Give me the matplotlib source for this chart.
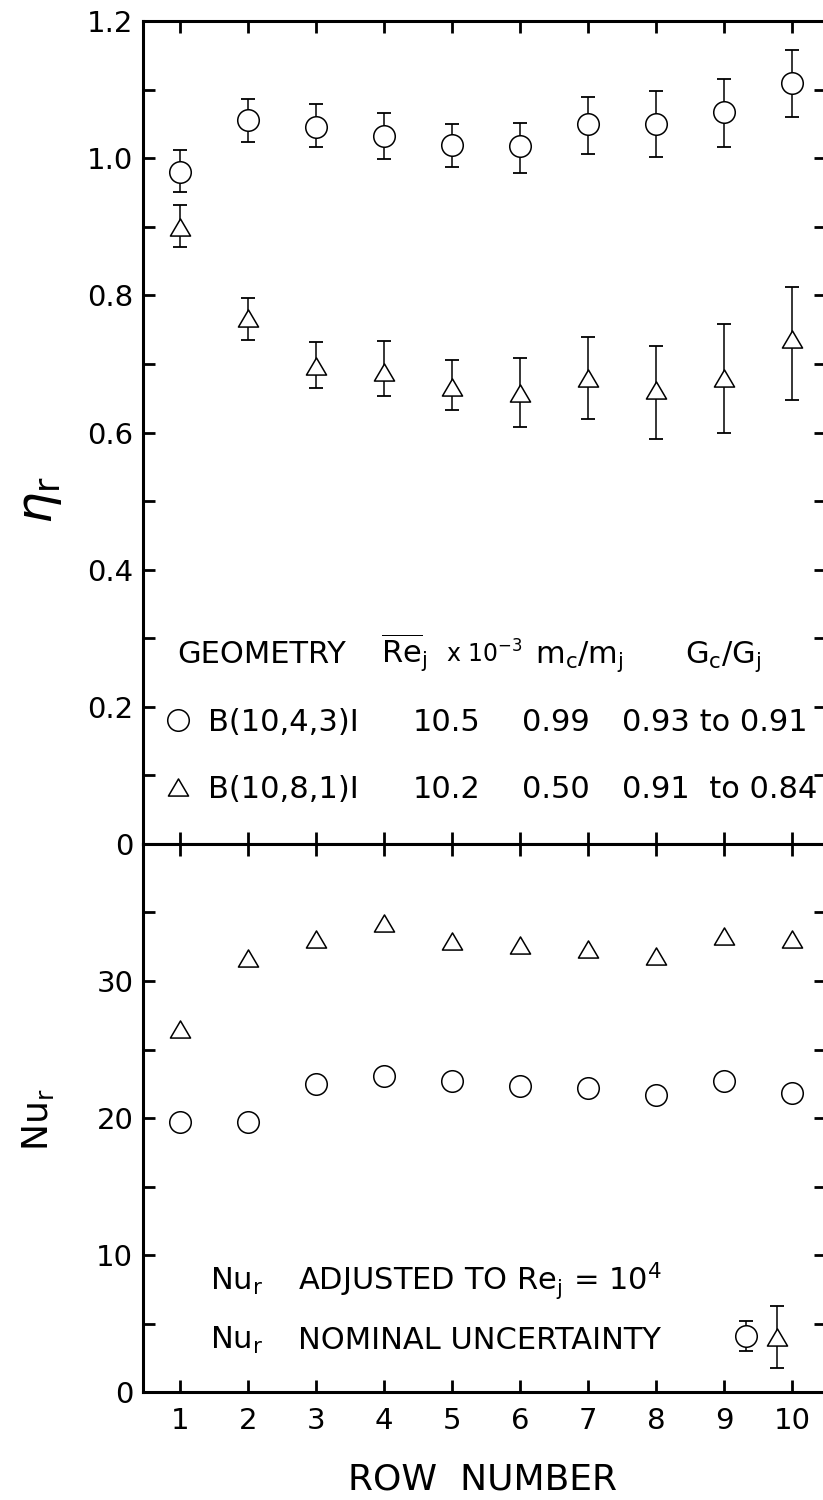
import matplotlib
matplotlib.use("Agg")
import matplotlib.pyplot as plt
from matplotlib.path import Path
from matplotlib.ticker import FixedLocator, NullFormatter

plt.rcParams['font.family'] = ['DejaVu Sans']
plt.rcParams['mathtext.default'] = 'regular'

# row-by-row results for the two tube-bank geometries
rows = [1, 2, 3, 4, 5, 6, 7, 8, 9, 10]

# effectiveness eta_r with the upper / lower ends of the scatter bars
eta_circ = [0.980, 1.056, 1.045, 1.032, 1.019, 1.018, 1.050, 1.050, 1.067, 1.110]
eta_circ_hi = [1.012, 1.086, 1.079, 1.066, 1.050, 1.051, 1.089, 1.098, 1.115, 1.158]
eta_circ_lo = [0.951, 1.024, 1.016, 0.999, 0.987, 0.979, 1.006, 1.001, 1.017, 1.060]

eta_tri = [0.900, 0.767, 0.697, 0.688, 0.666, 0.657, 0.679, 0.662, 0.679, 0.737]
eta_tri_hi = [0.932, 0.796, 0.732, 0.733, 0.705, 0.708, 0.739, 0.726, 0.758, 0.812]
eta_tri_lo = [0.871, 0.735, 0.665, 0.653, 0.633, 0.608, 0.620, 0.591, 0.599, 0.647]

# Nusselt number adjusted to Re_j = 1e4
nu_circ = [19.7, 19.7, 22.5, 23.1, 22.7, 22.3, 22.2, 21.7, 22.7, 21.8]
nu_tri = [26.5, 31.7, 33.1, 34.2, 32.9, 32.6, 32.3, 31.8, 33.3, 33.1]

# nominal uncertainty symbols drawn next to the note
unc_x = [9.33, 9.78]
unc_y = [4.1, 4.0]
unc_err = [1.1, 2.25]

eta_ticks = [0, 0.2, 0.4, 0.6, 0.8, 1.0, 1.2]
eta_labels = ['0', '0.2', '0.4', '0.6', '0.8', '1.0', '1.2']
eta_minor = [0.1, 0.3, 0.5, 0.7, 0.9, 1.1]
nu_ticks = [0, 10, 20, 30]
nu_minor = [5, 15, 25, 35]

# legend table
geometries = ["B(10,4,3)I", "B(10,8,1)I"]
re_mean = ["10.5", "10.2"]
mass_ratio = ["0.99", "0.50"]
g_ratio = ["0.93 to 0.91", "0.91  to 0.84"]

# triangle a bit wider than tall
tri = Path([(-1, -0.85), (1, -0.85), (0, 0.85), (-1, -0.85)],
           [Path.MOVETO, Path.LINETO, Path.LINETO, Path.CLOSEPOLY])

W, H = 823, 1500
fig = plt.figure(figsize=(W / 100, H / 100), dpi=100)
ax1 = fig.add_axes([143 / W, 1 - 844 / H, 683 / W, 823 / H])
ax2 = fig.add_axes([143 / W, 1 - 1392 / H, 683 / W, 548 / H])

circ_style = dict(marker='o', ms=15.5, mfc='white', mec='black', mew=1.1, ls='none', zorder=3)
tri_style = dict(marker=tri, ms=14.5, mfc='white', mec='black', mew=1.1, ls='none', zorder=3)
bar_style = dict(fmt='none', ecolor='black', elinewidth=1.1, capsize=5, capthick=1.3, zorder=2)

# upper panel
ax1.errorbar(rows, eta_circ,
             yerr=[[v - lo for v, lo in zip(eta_circ, eta_circ_lo)],
                   [hi - v for v, hi in zip(eta_circ, eta_circ_hi)]], **bar_style)
ax1.errorbar(rows, eta_tri,
             yerr=[[v - lo for v, lo in zip(eta_tri, eta_tri_lo)],
                   [hi - v for v, hi in zip(eta_tri, eta_tri_hi)]], **bar_style)
ax1.plot(rows, eta_circ, **circ_style)
ax1.plot(rows, eta_tri, **tri_style)
ax1.set_yticks(eta_ticks, eta_labels)
ax1.yaxis.set_minor_locator(FixedLocator(eta_minor))
ax1.set_ylim(0, 1.2)
ax1.xaxis.set_major_formatter(NullFormatter())

# lower panel
ax2.errorbar(unc_x, unc_y, yerr=unc_err, **bar_style)
ax2.plot(rows, nu_circ, **circ_style)
ax2.plot(rows, nu_tri, **tri_style)
ax2.plot(unc_x[:1], unc_y[:1], **circ_style)
ax2.plot(unc_x[1:], unc_y[1:], **tri_style)
ax2.set_yticks(nu_ticks)
ax2.yaxis.set_minor_locator(FixedLocator(nu_minor))
ax2.set_ylim(0, 40)

for ax in (ax1, ax2):
    ax.set_xlim(0.45, 10.5)
    ax.xaxis.set_major_locator(FixedLocator(rows))
    for s in ax.spines.values():
        s.set_linewidth(2.2)
    ax.tick_params(which='both', direction='in', length=8.5, width=2.0,
                   top=True, right=True, labelsize=21, pad=7)
ax2.tick_params(axis='x', pad=11)

# legend table inside the upper panel
tk = dict(transform=ax1.transAxes, fontsize=22, va='baseline', ha='left')
ax1.text(0.050, 0.220, "GEOMETRY", **tk)
ax1.text(0.348, 0.220, r"$\overline{\mathrm{Re}}_j$", **tk)
ax1.text(0.443, 0.220, r"x 10$^{-3}$", transform=ax1.transAxes, fontsize=17,
         va='baseline', ha='left')
ax1.text(0.574, 0.220, r"m$_c$/m$_j$", **tk)
ax1.text(0.794, 0.220, r"G$_c$/G$_j$", **tk)
ax1.plot([0.051], [0.151], transform=ax1.transAxes, clip_on=False, **circ_style)
ax1.plot([0.051], [0.069], transform=ax1.transAxes, clip_on=False, **tri_style)
for yb, geo, re, mr, gr in zip([0.137, 0.056], geometries, re_mean, mass_ratio, g_ratio):
    ax1.text(0.095, yb, geo, **tk)
    ax1.text(0.395, yb, re, **tk)
    ax1.text(0.555, yb, mr, **tk)
    ax1.text(0.701, yb, gr, **tk)

# notes in the lower panel
tk2 = dict(transform=ax2.transAxes, fontsize=22, va='baseline', ha='left')
ax2.text(0.098, 0.186, r"Nu$_r$", **tk2)
ax2.text(0.227, 0.186, r"ADJUSTED TO Re$_j$ = 10$^4$", **tk2)
ax2.text(0.098, 0.078, r"Nu$_r$", **tk2)
ax2.text(0.227, 0.078, "NOMINAL UNCERTAINTY", **tk2)

# axis titles
fig.text(40 / W, 1 - 500 / H, r"$\mathit{\eta}_r$", fontsize=36, rotation=90,
         ha='center', va='center')
fig.text(38 / W, 1 - 1120 / H, r"Nu$_r$", fontsize=26, rotation=90, ha='center', va='center')
fig.text(482 / W, 1 - 1480 / H, "ROW  NUMBER", fontsize=26, ha='center', va='center')

fig.savefig("out.png", dpi=100)
